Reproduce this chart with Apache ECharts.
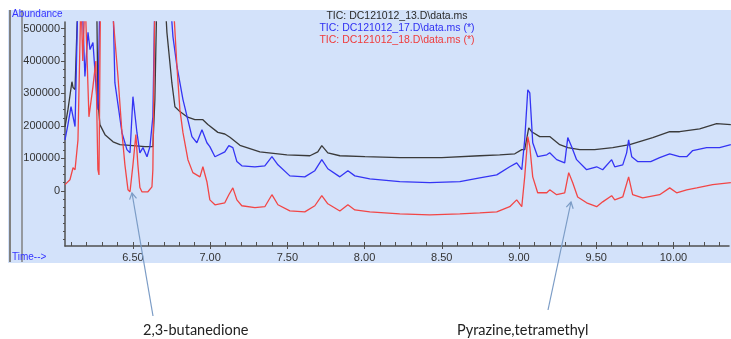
<!DOCTYPE html>
<html>
<head>
<meta charset="utf-8">
<script src="https://cdn.jsdelivr.net/npm/echarts@6/dist/echarts.min.js"></script>
<style>
  html, body { margin: 0; padding: 0; background: #fff; }
  #chart { width: 731px; height: 339px; }
</style>
</head>
<body>
<div id="chart"></div>
<script>
// retention time (min) and abundance
const blackTime = [6.060, 6.079, 6.105, 6.112, 6.125, 6.144, 6.200, 6.265, 6.273, 6.286, 6.319, 6.371, 6.416, 6.500, 6.578, 6.629, 6.642, 6.655, 6.707, 6.720, 6.752, 6.772, 6.804, 6.850, 6.901, 6.953, 6.985, 7.050, 7.095, 7.128, 7.193, 7.322, 7.497, 7.646, 7.697, 7.723, 7.762, 7.840, 8.002, 8.228, 8.500, 8.746, 8.875, 8.973, 9.018, 9.037, 9.063, 9.082, 9.134, 9.199, 9.264, 9.316, 9.393, 9.490, 9.607, 9.717, 9.866, 9.976, 10.040, 10.170, 10.280, 10.372];
const blackValue = [197000, 250000, 336000, 318000, 312000, 600000, 600000, 600000, 281000, 204000, 173000, 151000, 142000, 139000, 136000, 136000, 281000, 600000, 600000, 488000, 333000, 259000, 244000, 228000, 219000, 219000, 204000, 180000, 175000, 165000, 140000, 120000, 111000, 108000, 120000, 139000, 117000, 108000, 105000, 102000, 102000, 108000, 111000, 114000, 127000, 127000, 194000, 182000, 167000, 167000, 142000, 133000, 127000, 127000, 133000, 142000, 164000, 182000, 182000, 191000, 207000, 204000];

const blueTime = [6.060, 6.079, 6.099, 6.125, 6.144, 6.170, 6.189, 6.209, 6.222, 6.241, 6.267, 6.273, 6.286, 6.370, 6.383, 6.429, 6.461, 6.481, 6.500, 6.526, 6.545, 6.565, 6.591, 6.610, 6.629, 6.642, 6.740, 6.759, 6.785, 6.824, 6.882, 6.914, 6.947, 6.979, 6.998, 7.031, 7.095, 7.121, 7.147, 7.173, 7.205, 7.290, 7.354, 7.400, 7.439, 7.516, 7.613, 7.678, 7.723, 7.762, 7.840, 7.892, 7.937, 8.034, 8.228, 8.422, 8.617, 8.746, 8.856, 8.940, 8.985, 9.018, 9.037, 9.057, 9.070, 9.089, 9.121, 9.180, 9.199, 9.244, 9.296, 9.316, 9.341, 9.373, 9.438, 9.503, 9.542, 9.600, 9.620, 9.672, 9.697, 9.710, 9.730, 9.768, 9.853, 9.911, 9.976, 10.040, 10.086, 10.125, 10.215, 10.299, 10.372];
const blueValue = [157000, 204000, 259000, 198000, 600000, 600000, 352000, 488000, 435000, 457000, 281000, 250000, 600000, 600000, 333000, 179000, 127000, 117000, 290000, 179000, 117000, 133000, 105000, 136000, 228000, 600000, 600000, 475000, 383000, 281000, 167000, 148000, 188000, 148000, 136000, 105000, 120000, 139000, 133000, 90000, 77000, 74000, 77000, 105000, 80000, 46000, 43000, 62000, 96000, 68000, 43000, 62000, 46000, 37000, 28000, 25000, 28000, 40000, 49000, 74000, 86000, 65000, 157000, 311000, 302000, 148000, 105000, 111000, 117000, 96000, 86000, 164000, 136000, 96000, 65000, 74000, 65000, 96000, 74000, 80000, 117000, 157000, 105000, 90000, 90000, 102000, 114000, 105000, 105000, 124000, 133000, 133000, 142000];

const redTime = [6.060, 6.092, 6.112, 6.125, 6.144, 6.163, 6.175, 6.190, 6.215, 6.241, 6.260, 6.273, 6.280, 6.290, 6.360, 6.371, 6.403, 6.429, 6.448, 6.468, 6.481, 6.500, 6.519, 6.532, 6.545, 6.558, 6.597, 6.623, 6.629, 6.642, 6.759, 6.785, 6.804, 6.824, 6.856, 6.888, 6.934, 6.953, 6.979, 6.998, 7.031, 7.095, 7.121, 7.147, 7.173, 7.205, 7.290, 7.354, 7.400, 7.439, 7.516, 7.613, 7.678, 7.723, 7.762, 7.840, 7.892, 7.937, 8.034, 8.228, 8.422, 8.617, 8.746, 8.856, 8.940, 8.985, 9.018, 9.037, 9.057, 9.070, 9.089, 9.121, 9.180, 9.199, 9.244, 9.296, 9.322, 9.348, 9.380, 9.438, 9.503, 9.542, 9.600, 9.620, 9.672, 9.710, 9.736, 9.801, 9.911, 9.976, 10.021, 10.086, 10.151, 10.254, 10.372];
const redValue = [19000, 34000, 71000, 65000, 157000, 600000, 400000, 600000, 228000, 321000, 400000, 65000, 49000, 600000, 600000, 600000, 352000, 179000, 80000, 3000, -3000, 80000, 173000, 80000, 10000, -3000, -3000, 12000, 65000, 600000, 600000, 383000, 250000, 179000, 96000, 56000, 43000, 74000, 28000, -28000, -43000, -37000, -12000, 9000, -28000, -46000, -52000, -49000, -12000, -43000, -62000, -65000, -46000, -15000, -40000, -62000, -43000, -59000, -65000, -71000, -74000, -71000, -68000, -65000, -49000, -28000, -49000, 43000, 167000, 136000, 43000, -6000, -6000, 3000, -12000, -6000, 56000, 25000, -19000, -37000, -49000, -34000, -15000, -28000, -19000, 43000, -12000, -22000, -12000, 9000, -6000, 3000, 9000, 19000, 25000];

const titles = ['TIC: DC121012_13.D\\data.ms', 'TIC: DC121012_17.D\\data.ms (*)', 'TIC: DC121012_18.D\\data.ms (*)'];
const yLabels = [0, 100000, 200000, 300000, 400000, 500000];
const xLabels = [6.5, 7.0, 7.5, 8.0, 8.5, 9.0, 9.5, 10.0];

const colors = ['#3a3a3a', '#3434f4', '#f24646'];

function pairs(t, v) {
  return t.map((x, i) => [x, v[i]]);
}
const xMinor = [];
for (let i = 61; i <= 103; i++) xMinor.push(i / 10);
const yMinor = [];
for (let i = -6; i <= 20; i++) yMinor.push(i * 25000);

const chart = echarts.init(document.getElementById('chart'), null, { renderer: 'canvas' });

const axisText = { color: '#333', fontSize: 11, fontFamily: 'Liberation Sans' };
const arrowColor = '#7b9cc6';

chart.setOption({
  animation: false,
  backgroundColor: '#ffffff',
  grid: { left: 65, right: 2, top: 22, bottom: 93 },
  xAxis: [
    {
      type: 'value', min: 6.06, max: 10.36,
      axisLine: { onZero: false, lineStyle: { color: '#505050', width: 1.5 } },
      axisTick: { inside: true, length: 4, customValues: xMinor, lineStyle: { color: '#505050' } },
      axisLabel: Object.assign({ margin: 6, customValues: xLabels, formatter: (v) => v.toFixed(2) }, axisText),
      splitLine: { show: false }
    },
    {
      type: 'value', min: 6.06, max: 10.36, position: 'bottom',
      axisLine: { show: false, onZero: false },
      axisTick: { inside: false, length: 3, customValues: xLabels, lineStyle: { color: '#505050' } },
      axisLabel: { show: false },
      splitLine: { show: false }
    }
  ],
  yAxis: [
    {
      type: 'value', min: -170000, max: 520000,
      axisLine: { show: true, onZero: false, lineStyle: { color: '#505050', width: 1.5 } },
      axisTick: { show: true, inside: false, length: 4, customValues: yLabels, lineStyle: { color: '#505050' } },
      axisLabel: Object.assign({ margin: 5, customValues: yLabels, formatter: (v) => String(v) }, axisText),
      splitLine: { show: false }
    },
    {
      type: 'value', min: -170000, max: 520000, position: 'left', offset: 0,
      axisLine: { show: false, onZero: false },
      axisTick: { show: true, inside: false, length: 2, customValues: yMinor, lineStyle: { color: '#505050' } },
      axisLabel: { show: false },
      splitLine: { show: false }
    }
  ],
  series: [
    { name: titles[0], type: 'line', data: pairs(blackTime, blackValue), showSymbol: false, lineStyle: { color: colors[0], width: 1.3 }, clip: true },
    { name: titles[1], type: 'line', data: pairs(blueTime, blueValue), showSymbol: false, lineStyle: { color: colors[1], width: 1.3 }, clip: true },
    { name: titles[2], type: 'line', data: pairs(redTime, redValue), showSymbol: false, lineStyle: { color: colors[2], width: 1.3 }, clip: true }
  ],
  graphic: [
    { type: 'rect', z: -10, silent: true, shape: { x: 8, y: 10, width: 723, height: 253 }, style: { fill: '#d3e2fa' } },
    { type: 'line', z: 5, shape: { x1: 10, y1: 10, x2: 10, y2: 262 }, style: { stroke: '#808080', lineWidth: 2 } },
    { type: 'line', z: 5, shape: { x1: 22, y1: 10, x2: 22, y2: 262 }, style: { stroke: '#808080', lineWidth: 1.5 } },
    { type: 'text', z: 5, left: 12, top: 9, style: { text: 'Abundance', fill: '#3333ff', fontSize: 10, fontFamily: 'Liberation Sans' } },
    { type: 'text', z: 5, left: 12, top: 252, style: { text: 'Time-->', fill: '#3333ff', fontSize: 10, fontFamily: 'Liberation Sans' } },
    { type: 'text', z: 5, x: 397, y: 16, style: { text: titles[0], fill: '#2a2a2a', fontSize: 10.5, fontFamily: 'Liberation Sans', align: 'center', verticalAlign: 'middle' } },
    { type: 'text', z: 5, x: 397, y: 28, style: { text: titles[1], fill: '#2f2ff2', fontSize: 10.5, fontFamily: 'Liberation Sans', align: 'center', verticalAlign: 'middle' } },
    { type: 'text', z: 5, x: 397, y: 40, style: { text: titles[2], fill: '#f03a3a', fontSize: 10.5, fontFamily: 'Liberation Sans', align: 'center', verticalAlign: 'middle' } },
    { type: 'polyline', z: 6, shape: { points: [[153, 316], [132, 193]] }, style: { stroke: arrowColor, lineWidth: 1.2, fill: null } },
    { type: 'polyline', z: 6, shape: { points: [[129.6, 199.6], [132, 193], [136.5, 198.4]] }, style: { stroke: arrowColor, lineWidth: 1.2, fill: null } },
    { type: 'polyline', z: 6, shape: { points: [[548, 310], [571, 202]] }, style: { stroke: arrowColor, lineWidth: 1.2, fill: null } },
    { type: 'polyline', z: 6, shape: { points: [[566.3, 207.2], [571, 202], [573.2, 208.7]] }, style: { stroke: arrowColor, lineWidth: 1.2, fill: null } },
    { type: 'text', z: 5, left: 143, top: 323, style: { text: '2,3-butanedione', fill: '#222', fontSize: 14.5, fontFamily: 'Lato' } },
    { type: 'text', z: 5, left: 457, top: 323, style: { text: 'Pyrazine,tetramethyl', fill: '#222', fontSize: 14.5, fontFamily: 'Lato' } }
  ]
});
</script>
</body>
</html>
